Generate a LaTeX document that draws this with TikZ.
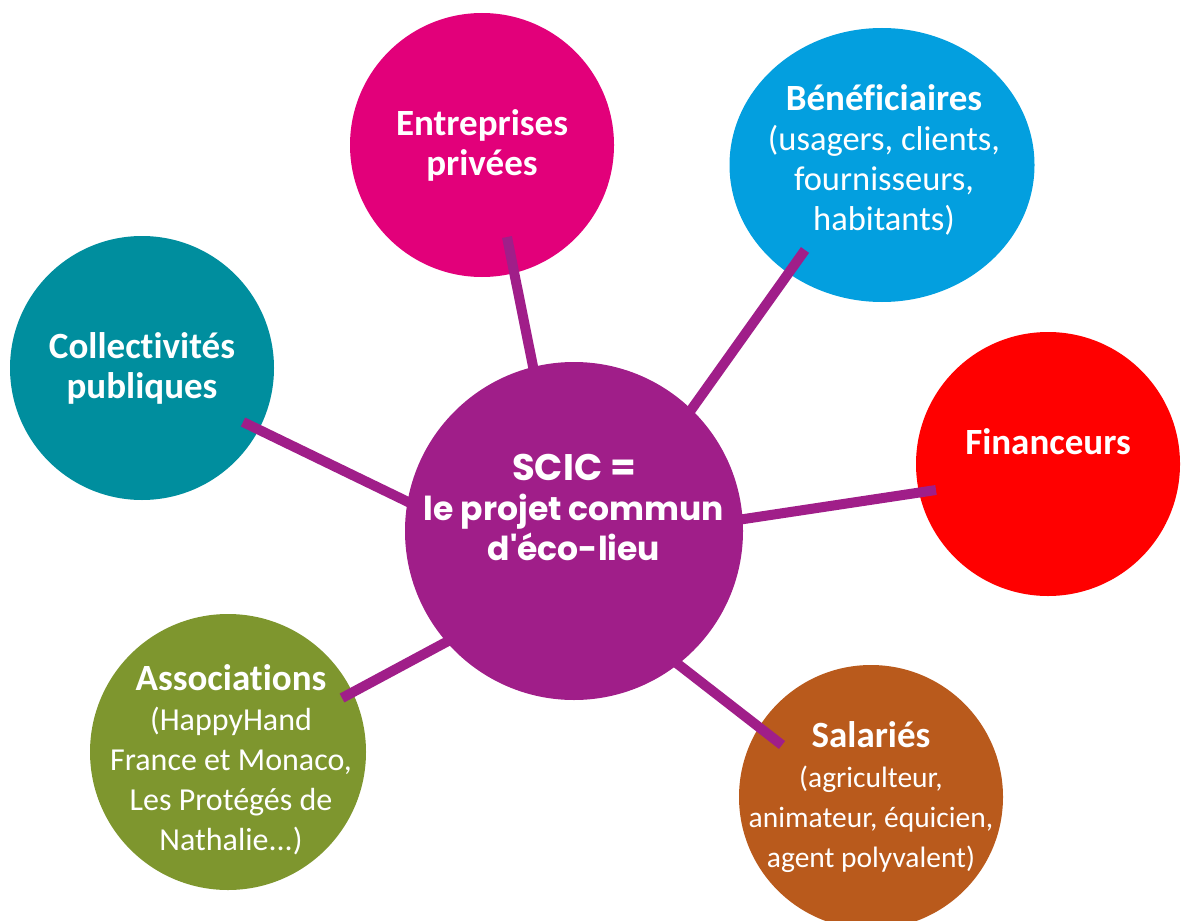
\documentclass[tikz,border=0pt]{standalone}
\usepackage{fontspec}
\setmainfont{Carlito}[Ligatures=NoCommon]
\newfontfamily\scicfont{Poppins}
\usetikzlibrary{shapes.geometric}

\definecolor{scicpurple}{RGB}{160,30,137}
\definecolor{entmagenta}{RGB}{226,0,122}
\definecolor{benblue}{RGB}{3,159,223}
\definecolor{colteal}{RGB}{0,142,158}
\definecolor{finred}{RGB}{255,0,0}
\definecolor{assgreen}{RGB}{126,150,46}
\definecolor{salbrown}{RGB}{185,90,28}

\newcommand{\memhead}[1]{{\fontsize{37}{40}\selectfont\bfseries #1}}

\begin{document}
\begin{tikzpicture}[x=1pt, y=-1pt,
        member/.style={circle, minimum size=264pt, inner sep=0pt},
        memtext/.style={text=white, align=center, inner sep=0pt, font=\fontsize{32}{40}\selectfont},
        link/.style={line width=10pt, scicpurple, shorten >=-8pt}]
        \useasboundingbox (0,0) rectangle (1182,920);

        \node[member, fill=entmagenta] (ent) at (482,145) {};
        \node[member, ellipse, minimum width=305pt, minimum height=274pt, fill=benblue] (ben) at (882,165) {};
        \node[member, fill=colteal] (col) at (142,368) {};
        \node[member, fill=finred] (fin) at (1048,464) {};
        \node[member, minimum size=276pt, fill=assgreen] (ass) at (228,752) {};
        \node[member, fill=salbrown] (sal) at (871,797) {};

        \node[memtext] (ent-t) at (ent) {\memhead{Entreprises}\\\memhead{privées}};
        \node[memtext, yshift=5pt, xshift=2pt, font=\fontsize{34.5}{40}\selectfont] (ben-t) at (ben)
            {\memhead{Bénéficiaires}\\(usagers, clients,\\fournisseurs,\\habitants)};
        \node[memtext] (col-t) at (col) {\memhead{Collectivités}\\\memhead{publiques}};
        \node[memtext, yshift=22pt] (fin-t) at (fin) {\memhead{Financeurs}};
        \node[memtext, yshift=-8pt, xshift=3pt] (ass-t) at (ass)
            {\memhead{Associations}\\(HappyHand\\France et Monaco,\\Les Protégés de\\Nathalie...)};
        \node[memtext, font=\fontsize{29.5}{40}\selectfont] (sal-t) at (sal)
            {\memhead{Salariés}\\(agriculteur,\\animateur, équicien,\\agent polyvalent)};

        \node[circle, minimum size=338pt, inner sep=0pt, fill=scicpurple] (scic) at (574,531) {};
        \node[text=white, align=center, inner sep=0pt, yshift=24pt,
            font=\scicfont\bfseries\fontsize{33}{40}\selectfont] (scic-t) at (scic)
            {{\fontsize{37}{40}\selectfont SCIC =}\\le projet commun\\d'éco-lieu};

        \coordinate (E1) at (507,237);
        \coordinate (B1) at (805,250);
        \coordinate (C1) at (243,422);
        \coordinate (F1) at (936,490);
        \coordinate (A1) at (342,698);
        \coordinate (S1) at (782,745);

        \draw[link] (E1) -- (scic.104);
        \draw[link] (B1) -- (scic.46);
        \draw[link] (C1) -- (scic.170);
        \draw[link] (F1) -- (scic.4);
        \draw[link] (A1) -- (scic.221);
        \draw[link] (S1) -- (scic.308);
    \end{tikzpicture}
\end{document}
